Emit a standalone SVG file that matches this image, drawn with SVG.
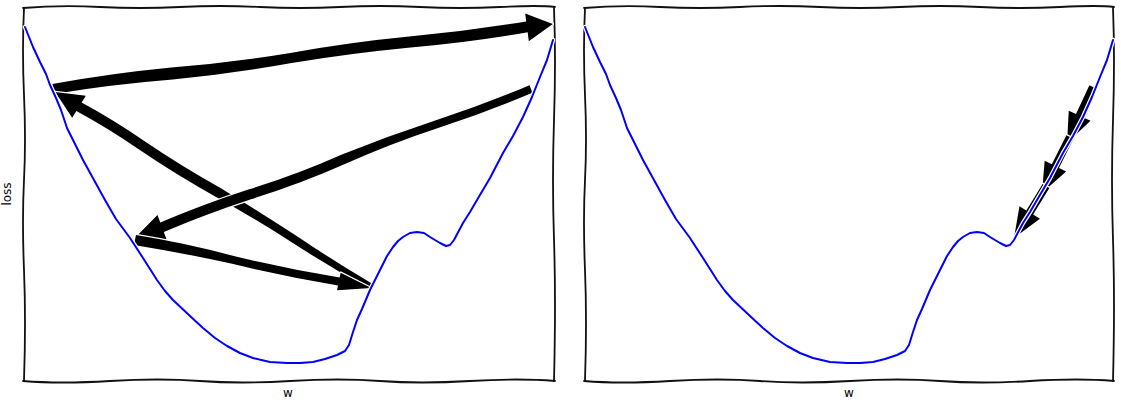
<svg xmlns="http://www.w3.org/2000/svg" width="1121" height="401" viewBox="0 0 1121 401">
<style>
.frame{fill:none;stroke:#111;stroke-width:1.8;stroke-linecap:round}
.curveW{fill:none;stroke:#fff;stroke-width:4.5;stroke-linejoin:round;stroke-linecap:round}
.curveB{fill:none;stroke:#0000ff;stroke-width:2;stroke-linejoin:round;stroke-linecap:round}
.arrow{fill:#000;stroke:#fff;stroke-width:2.5;paint-order:stroke;stroke-linejoin:round}
.lbl{font-family:"DejaVu Sans","Liberation Sans",sans-serif;font-size:12px;fill:#000}
</style>
<defs>
<path id="curve" d="M25,27 L29,37 L33,47 L40,62 L46,74 L50,85 L56,98 L61,110 L67,128 L75,144 L83,160 L94,180 L105,200 L116,219 L130,238 L143,258 L157,280 L165,291 L173,300 L190,316 L203,328 L215,338 L227,346 L240,353 L253,358 L270,362 L287,363 L300,363 L313,362 L325,359 L337,355 L345,351 L349,345 L353,332 L357,320 L362,309 L370,290 L380,270 L387,256 L393,247 L398,241 L403,237 L410,233 L417,232 L424,233 L430,237 L440,243 L446,246 L450,245 L454,240 L463,223 L470,212 L477,200 L490,178 L503,153 L513,136 L523,117 L532,97 L540,77 L547,60 L553,40"/>
</defs>
<rect width="1121" height="401" fill="#fff"/>
<g id="panel-left">
<g id="frame-left">
<path class="frame" d="M23,8 Q60,5 100,7 T180,7 T260,7 T340,7 T420,7 T500,7 T555,7"/>
<path class="frame" d="M23,381 Q60,384 110,381 T200,381 T290,381 T380,381 T470,381 T555,381"/>
<path class="frame" d="M24,8 Q22,50 24,95 T24,180 T24,270 T24,381"/>
<path class="frame" d="M554,8 Q556,60 554,120 T554,240 T554,381"/>
</g>
<g id="connectors-left">
<path id="arrow-1" class="arrow" transform="translate(53,89) rotate(-7.41)" d="M0,-5 Q60,-8 120,-6 Q180,-3 240,-5 Q300,-8 360,-6 Q420,-4 478,-6 L478,-14 L504,0 L478,14 L478,5 Q420,7.5 360,5 Q300,3 240,5 Q180,8 120,6 Q60,3 0,5 Z"/>
<path id="arrow-2" class="arrow" transform="translate(372,287) rotate(-148.4)" d="M0,-3 Q45,-5 90,-4 Q135,-3 180,-5 Q225,-7 270,-5 Q307,-3 344,-5 L344,-13 L372,0 L344,13 L344,5 Q307,7 270,5 Q225,3 180,5 Q135,5 90,4 Q45,2 0,3 Z"/>
<path id="arrow-3" class="arrow" transform="translate(531,89) rotate(159.46)" d="M0,-4 Q50,-6 100,-4 Q150,-2 200,-5 Q250,-8 300,-5 Q347,-3 394,-5 L394,-13 L422,0 L394,13 L394,5 Q347,7 300,5 Q250,2 200,5 Q150,6 100,4 Q50,2 0,4 Z"/>
<path id="arrow-4" class="arrow" transform="translate(135,240) rotate(11.5)" d="M0,-5 Q50,-7 100,-4 Q154,-2 208,-4 L208,-9 L241,0 L208,9 L208,4 Q154,6 100,4 Q50,3 0,5 Z"/>
</g>
<g id="curve-left">
<use href="#curve" class="curveW"/>
<use href="#curve" class="curveB"/>
</g>
<text class="lbl" x="288" y="397" text-anchor="middle">w</text>
<text class="lbl" transform="translate(11,194) rotate(-90)" text-anchor="middle">loss</text>
</g>
<g id="panel-right">
<g id="frame-right">
<path class="frame" d="M584,8 Q620,5 660,7 T740,7 T820,7 T900,7 T980,7 T1060,7 T1114,7"/>
<path class="frame" d="M584,381 Q620,384 670,381 T760,381 T850,381 T940,381 T1030,381 T1114,381"/>
<path class="frame" d="M585,8 Q583,50 585,95 T585,180 T585,270 T585,381"/>
<path class="frame" d="M1113,8 Q1115,60 1113,120 T1113,240 T1113,381"/>
</g>
<g id="connectors-right">
<path id="arrow-a" class="arrow" transform="translate(1093,87) rotate(114.9)" d="M0,-4 L31.7,-4 L31.7,-12 L61.7,0 L31.7,12 L31.7,4 L0,4 Z"/>
<path id="arrow-b" class="arrow" transform="translate(1070,137) rotate(116.6)" d="M0,-4 L32.6,-4 L32.6,-12 L62.6,0 L32.6,12 L32.6,4 L0,4 Z"/>
<path id="arrow-c" class="arrow" transform="translate(1046,186) rotate(121.6)" d="M0,-4 L31.1,-4 L31.1,-12 L61.1,0 L31.1,12 L31.1,4 L0,4 Z"/>
</g>
<g id="curve-right" transform="translate(560,0)">
<use href="#curve" class="curveW"/>
<use href="#curve" class="curveB"/>
</g>
<text class="lbl" x="849" y="397" text-anchor="middle">w</text>
</g>
</svg>
